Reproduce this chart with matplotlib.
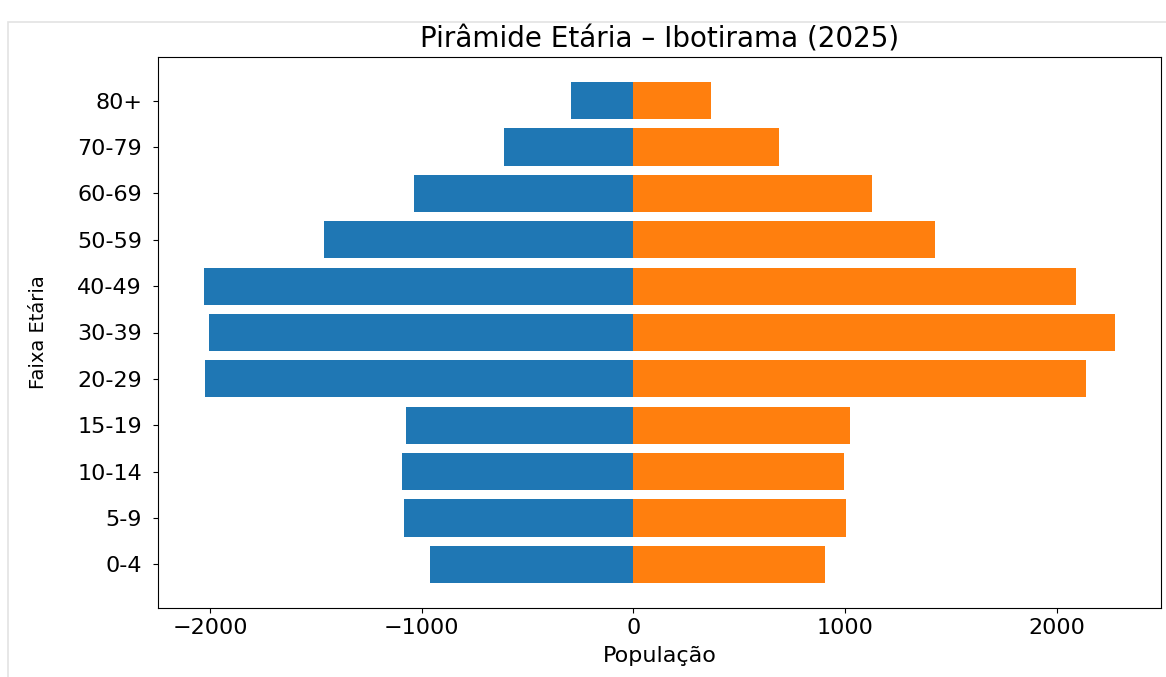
import matplotlib.pyplot as plt
import matplotlib.patches as patches

# faixas etárias, de baixo para cima
faixas = ["0-4", "5-9", "10-14", "15-19", "20-29", "30-39",
          "40-49", "50-59", "60-69", "70-79", "80+"]
homens = [959, 1084, 1091, 1074, 2022, 2003, 2030, 1460, 1038, 609, 293]
mulheres = [908, 1006, 997, 1025, 2138, 2278, 2094, 1427, 1129, 690, 367]

plt.rcParams["font.size"] = 16

fig = plt.figure(figsize=(11.66, 6.77), dpi=100)

# moldura cinza do documento
moldura = patches.Rectangle((8 / 1166, -0.1), 1.2, 1.1 - 22 / 677,
                            transform=fig.transFigure, fill=False,
                            edgecolor="#e3e3e3", linewidth=1.2)
fig.patches.append(moldura)

ax = fig.add_axes([158 / 1166, 1 - 608 / 677,
                   (1161 - 158) / 1166, (608 - 57) / 677])

ax.barh(faixas, [-v for v in homens], color="#1f77b4")
ax.barh(faixas, mulheres, color="#ff7f0e")

ax.set_title("Pirâmide Etária – Ibotirama (2025)", fontsize=20, pad=7)
ax.set_xlabel("População", labelpad=6)
ax.set_ylabel("Faixa Etária", fontsize=14)
ax.yaxis.set_label_coords(-0.11, 0.5)
ax.tick_params(axis="y", pad=8)

fig.savefig("out.png", dpi=100)
